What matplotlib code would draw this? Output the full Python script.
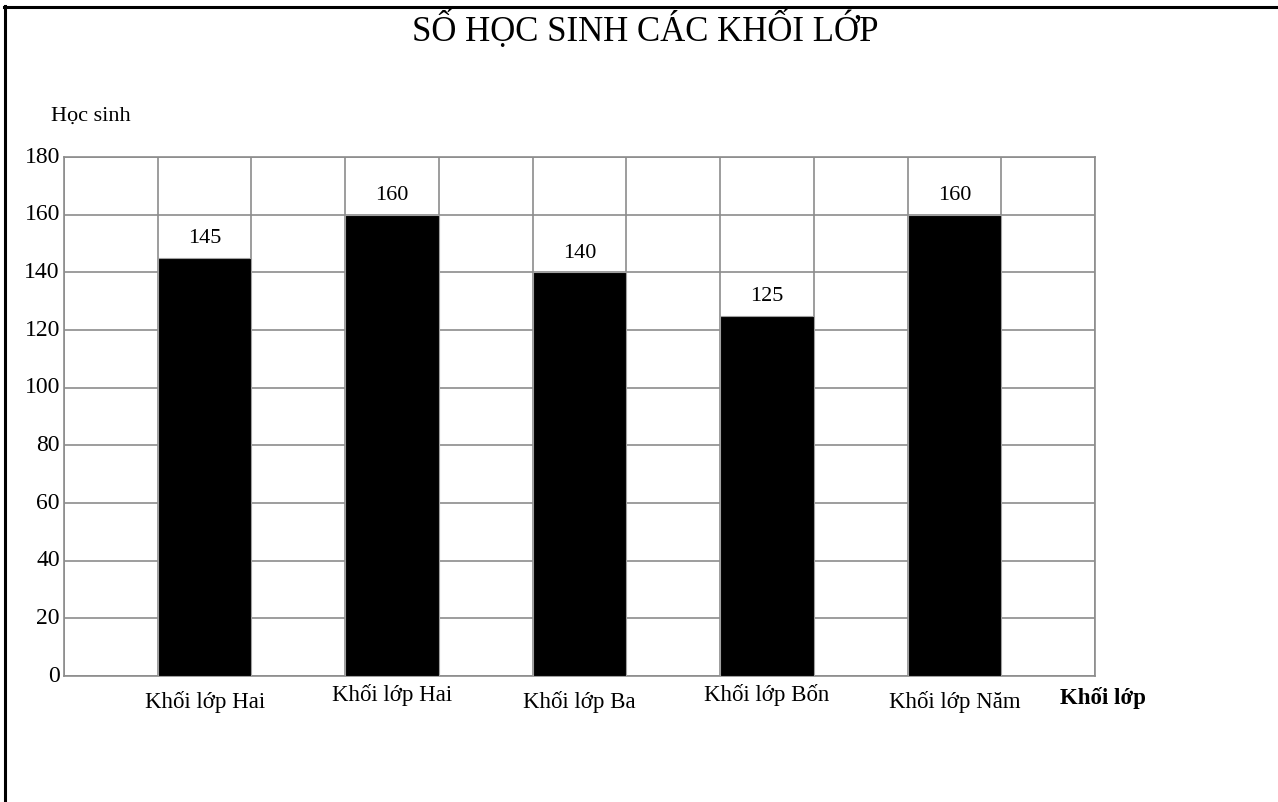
import matplotlib
matplotlib.use("Agg")
from matplotlib import pyplot as plt
from matplotlib.lines import Line2D

plt.rcParams['font.family'] = ['Liberation Serif', 'DejaVu Serif']

# data
grades = ["Khối lớp Hai", "Khối lớp Hai", "Khối lớp Ba", "Khối lớp Bốn", "Khối lớp Năm"]
students = [145, 160, 140, 125, 160]
label_dy = [0, 5, 0, 5, 0]  # small vertical nudges of the category labels
y_ticks = [0, 20, 40, 60, 80, 100, 120, 140, 160, 180]

fig = plt.figure(figsize=(12.78, 8.02), dpi=100)
ax = fig.add_axes([0.0501, 0.1571, 0.8067, 0.6471])

# bars sit in every other column of an 11-column grid
xs = [1.5 + 2 * i for i in range(len(students))]
ax.bar(xs, students, width=1.0, color="black", edgecolor="#a0a0a0", linewidth=0.8, zorder=3)
for x, v in zip(xs, students):
    ax.annotate(str(v), (x, v), xytext=(0, 7), textcoords="offset points",
                ha="center", va="bottom", fontsize=16)

ax.set_xlim(0, 11)
ax.set_ylim(0, 180)
ax.set_xticks(range(12))
ax.set_xticklabels([])
ax.set_yticks(y_ticks)
ax.set_yticklabels([str(t) for t in y_ticks], fontsize=17)
ax.tick_params(axis="both", length=0, pad=3)
for lbl in ax.get_yticklabels():
    lbl.set_va("center")
ax.grid(True, color="#8c8c8c", linewidth=1.2, zorder=0)
for sp in ax.spines.values():
    sp.set_color("#8c8c8c")
    sp.set_linewidth(1.2)

# category names under the bars
for x, name, dy in zip(xs, grades, label_dy):
    ax.annotate(name, (x, 0), xytext=(0, -11 + dy), textcoords="offset points",
                ha="center", va="top", fontsize=16.5)
fig.text(1103 / 1278, 1 - 698 / 802, "Khối lớp", ha="center", va="center",
         fontsize=16.5, fontweight="bold")

fig.text(91 / 1278, 1 - 116 / 802, "Học sinh", ha="center", va="center", fontsize=16)
fig.text(645 / 1278, 1 - 30 / 802, "SỐ HỌC SINH CÁC KHỐI LỚP", ha="center", va="center",
         fontsize=25)

# page frame (top and left edges)
fig.add_artist(Line2D([4 / 1278, 1.0], [1 - 6.5 / 802, 1 - 6.5 / 802],
                      transform=fig.transFigure, color="black", linewidth=2.2))
fig.add_artist(Line2D([5 / 1278, 5 / 1278], [0.0, 1 - 6 / 802],
                      transform=fig.transFigure, color="black", linewidth=2.2))

fig.savefig("out.png", dpi=100)
